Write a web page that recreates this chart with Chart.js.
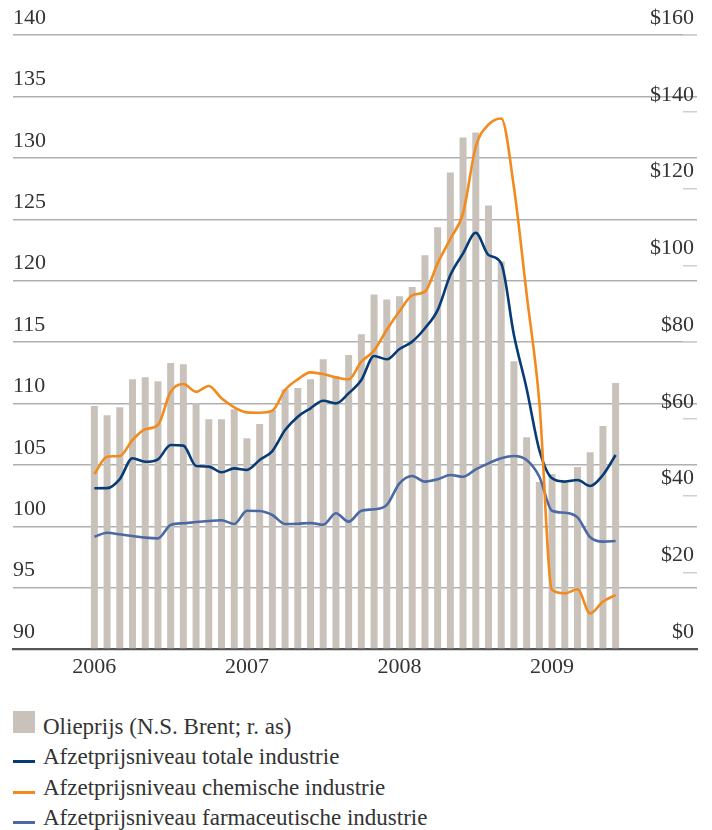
<!DOCTYPE html>
<html>
<head>
<meta charset="utf-8">
<script src="https://cdn.jsdelivr.net/npm/chart.js@4.4.1/dist/chart.umd.min.js"></script>
<style>
html,body{margin:0;padding:0;background:#fff;}
#wrap{position:relative;width:712px;height:830px;overflow:hidden;}
#c{position:absolute;left:0;top:0;}
.lg{position:absolute;left:0;height:30px;line-height:30px;font-family:"Liberation Serif",serif;font-size:23px;color:#333;white-space:nowrap;}
.lg .mk{position:absolute;left:13px;}
.lg .tx{position:absolute;left:43px;top:0;}
</style>
</head>
<body>
<div id="wrap">
<canvas id="c" width="712" height="690"></canvas>
<div id="legend"></div>
</div>
<script>
// ---- data (monthly, Jan 2006 - Jun 2009) ----
const months = [
 '2006-01','2006-02','2006-03','2006-04','2006-05','2006-06','2006-07','2006-08','2006-09','2006-10','2006-11','2006-12',
 '2007-01','2007-02','2007-03','2007-04','2007-05','2007-06','2007-07','2007-08','2007-09','2007-10','2007-11','2007-12',
 '2008-01','2008-02','2008-03','2008-04','2008-05','2008-06','2008-07','2008-08','2008-09','2008-10','2008-11','2008-12',
 '2009-01','2009-02','2009-03','2009-04','2009-05','2009-06'
];
const yearLabels = ['2006','2007','2008','2009'];
const yearTickIndex = [0, 12, 24, 36];

const oilPrice = [
 63.3, 60.9, 63.0, 70.3, 70.8, 69.8, 74.5, 74.2, 64.1, 59.9, 59.9, 62.5,
 54.9, 58.6, 62.2, 67.7, 68.0, 70.3, 75.5, 71.1, 76.6, 82.0, 92.4, 91.1,
 91.9, 94.3, 102.6, 109.9, 124.2, 133.3, 134.6, 115.6, 101.0, 75.0, 55.2, 43.5,
 45.6, 43.6, 47.4, 51.3, 58.1, 69.3
];
const totalIndustry = [
 103.09, 103.1, 103.84, 105.53, 105.25, 105.45, 106.61, 106.56, 104.9, 104.85, 104.39, 104.71,
 104.58, 105.39, 106.12, 107.83, 108.92, 109.6, 110.22, 110.0, 110.82, 111.9, 113.86, 113.59,
 114.43, 115.03, 116.12, 117.6, 120.45, 122.22, 123.9, 122.08, 121.4, 115.57, 111.2, 106.2,
 103.9, 103.63, 103.76, 103.27, 104.17, 105.8
];
const chemicalIndustry = [
 104.25, 105.66, 105.72, 107.02, 107.89, 108.24, 110.95, 111.58, 110.95, 111.42, 110.41, 109.68,
 109.27, 109.24, 109.41, 111.09, 111.96, 112.53, 112.39, 112.12, 111.96, 113.4, 114.3, 116.0,
 117.5, 118.8, 119.1, 121.4, 123.4, 125.5, 130.9, 132.7, 133.2, 127.6, 118.9, 110.1,
 94.8, 94.53, 94.86, 92.9, 93.85, 94.4
];
const pharmaIndustry = [
 99.14, 99.47, 99.34, 99.2, 99.07, 99.01, 100.1, 100.24, 100.34, 100.42, 100.48, 100.18,
 101.26, 101.24, 100.91, 100.18, 100.2, 100.26, 100.12, 101.05, 100.37, 101.26, 101.38, 101.73,
 103.49, 104.09, 103.63, 103.82, 104.17, 104.03, 104.63, 105.12, 105.53, 105.72, 105.39, 104.03,
 101.26, 101.1, 100.72, 99.1, 98.74, 98.8
];
const seriesNames = [
 'Olieprijs (N.S. Brent; r. as)',
 'Afzetprijsniveau totale industrie',
 'Afzetprijsniveau chemische industrie',
 'Afzetprijsniveau farmaceutische industrie'
];

// ---- chart ----
const toPoints = arr => arr.map((v, i) => ({x: i, y: v}));
const FONT = {family: '"Liberation Serif", serif', size: 22};
const TXT = '#333';

const chart = new Chart(document.getElementById('c'), {
  data: {
    datasets: [
      {type: 'bar', label: seriesNames[0], data: toPoints(oilPrice), yAxisID: 'y1',
       backgroundColor: '#c9c2ba', borderWidth: 0, barPercentage: 1, categoryPercentage: 0.55, order: 10},
      {type: 'line', label: seriesNames[1], data: toPoints(totalIndustry), yAxisID: 'y',
       borderColor: '#073b78', borderWidth: 2.6, pointRadius: 0, cubicInterpolationMode: 'monotone', order: 2},
      {type: 'line', label: seriesNames[2], data: toPoints(chemicalIndustry), yAxisID: 'y',
       borderColor: '#f28a1e', borderWidth: 2.6, pointRadius: 0, cubicInterpolationMode: 'monotone', order: 1},
      {type: 'line', label: seriesNames[3], data: toPoints(pharmaIndustry), yAxisID: 'y',
       borderColor: '#4a69a5', borderWidth: 2.6, pointRadius: 0, cubicInterpolationMode: 'monotone', order: 3}
    ]
  },
  options: {
    responsive: false,
    animation: false,
    devicePixelRatio: 1,
    layout: {padding: {left: 13, right: 15, top: 35, bottom: 0}},
    plugins: {legend: {display: false}, tooltip: {enabled: false}},
    scales: {
      x: {
        type: 'linear', position: 'bottom', offset: false,
        min: -6.4, max: months.length - 1 + 6.4,
        afterBuildTicks: s => { s.ticks = yearTickIndex.map(v => ({value: v})); },
        afterFit: s => { s.height = 41; },
        grid: {display: false, drawTicks: false, offset: false},
        border: {display: true, color: '#555', width: 2.2},
        ticks: {color: TXT, font: FONT, padding: 5, maxRotation: 0, autoSkip: false,
                callback: v => yearLabels[yearTickIndex.indexOf(v)]}
      },
      y: {
        position: 'left', min: 90, max: 140,
        afterFit: s => { s.width = 0; },
        border: {display: false},
        grid: {color: '#b0b0b0', lineWidth: 1.4, drawTicks: false},
        ticks: {stepSize: 5, mirror: true, padding: 0, labelOffset: -17, color: TXT, font: FONT}
      },
      y1: {
        position: 'right', min: 0, max: 160,
        afterFit: s => { s.width = 0; },
        border: {display: false},
        grid: {drawOnChartArea: false, drawTicks: true, tickLength: -14, color: '#cfcfcf', lineWidth: 1.5},
        ticks: {stepSize: 20, mirror: true, padding: -3, labelOffset: -17, color: TXT, font: FONT,
                callback: v => '$' + v}
      }
    }
  }
});

// ---- legend (HTML, built from the chart's datasets) ----
const lg = document.getElementById('legend');
chart.data.datasets.forEach((ds, i) => {
  const row = document.createElement('div');
  row.className = 'lg';
  row.style.top = (712 + 30.4 * i) + 'px';
  const mk = document.createElement('div');
  mk.className = 'mk';
  if (ds.type === 'bar') {
    mk.style.cssText = 'top:-1px;width:22px;height:22px;background:' + ds.backgroundColor;
  } else {
    mk.style.cssText = 'top:18px;width:22px;height:3px;background:' + ds.borderColor;
  }
  const tx = document.createElement('span');
  tx.className = 'tx';
  tx.textContent = ds.label;
  row.appendChild(mk); row.appendChild(tx);
  lg.appendChild(row);
});
</script>
</body>
</html>
